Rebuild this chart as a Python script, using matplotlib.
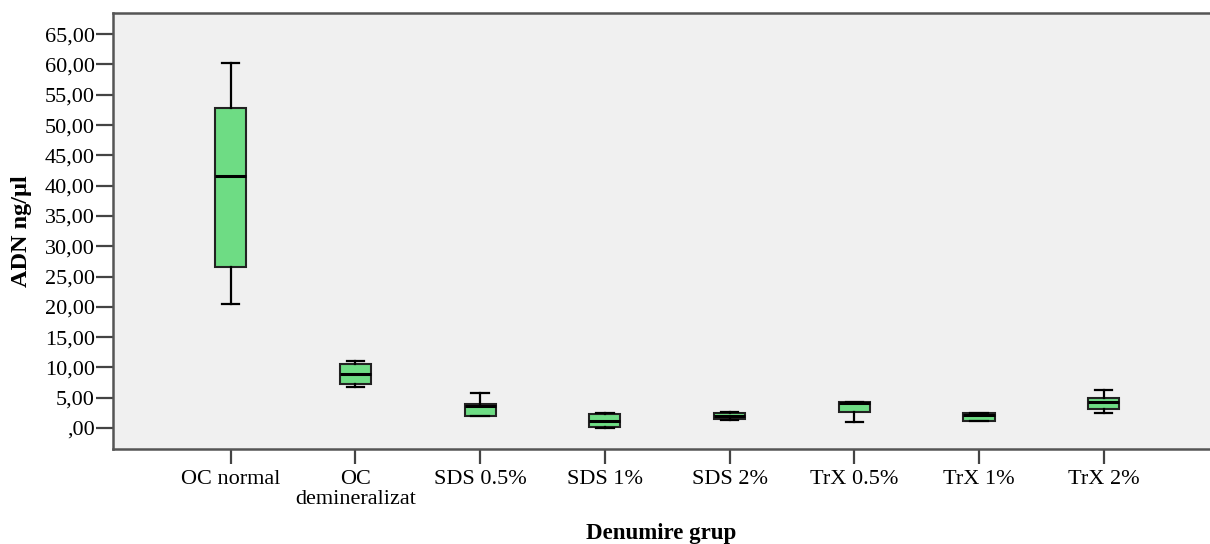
import matplotlib
matplotlib.use("Agg")
import matplotlib.pyplot as plt
from matplotlib.ticker import FuncFormatter

plt.rcParams['font.family'] = ['Liberation Serif', 'DejaVu Serif']

# groups and box stats (ng/ul)
groups = ["OC normal", "OC\ndemineralizat", "SDS 0.5%", "SDS 1%",
          "SDS 2%", "TrX 0.5%", "TrX 1%", "TrX 2%"]
whisk_low = [20.5, 6.8, 2.0, 0.0, 1.3, 1.05, 1.15, 2.4]
q1 = [26.5, 7.2, 2.0, 0.1, 1.5, 2.6, 1.2, 3.1]
medians = [41.6, 8.9, 3.6, 1.2, 2.0, 4.1, 2.15, 4.35]
q3 = [52.8, 10.6, 3.9, 2.3, 2.4, 4.3, 2.4, 5.0]
whisk_high = [60.2, 11.1, 5.7, 2.5, 2.7, 4.3, 2.5, 6.3]

stats = []
for i in range(len(groups)):
    stats.append({"whislo": whisk_low[i], "q1": q1[i], "med": medians[i],
                  "q3": q3[i], "whishi": whisk_high[i], "fliers": []})

fig = plt.figure(figsize=(12.1, 5.44), dpi=100)
ax = fig.add_axes([0.0934, 0.1746, 1.0 - 0.0934, 0.8015])
ax.set_facecolor("#f0f0f0")

ax.bxp(stats, positions=range(len(groups)), widths=0.25, patch_artist=True,
       showfliers=False,
       boxprops=dict(facecolor="#6edc84", edgecolor="#222222", linewidth=1.5),
       medianprops=dict(color="black", linewidth=2.2),
       whiskerprops=dict(color="black", linewidth=1.6),
       capprops=dict(color="black", linewidth=1.6),
       capwidths=0.14)

ax.set_xlim(-0.944, 7.853)
ax.set_ylim(-3.47, 68.5)
ax.set_yticks(range(0, 70, 5))
ax.yaxis.set_major_formatter(FuncFormatter(
    lambda v, p: ",00" if v == 0 else f"{v:.2f}".replace(".", ",")))
ax.set_xticks(range(len(groups)))
ax.set_xticklabels(groups, fontsize=16, linespacing=1.1)
ax.tick_params(axis="y", labelsize=16, length=12, width=1.6, color="#444444", pad=1)
ax.tick_params(axis="x", length=11, width=1.6, color="#444444", pad=4)

for s in ["left", "bottom", "top"]:
    ax.spines[s].set_color("#555555")
    ax.spines[s].set_linewidth(1.8)
ax.spines["right"].set_visible(False)

# axis titles placed where the reference puts them
fig.text(661 / 1210, 1 - 533 / 544, "Denumire grup", fontsize=16.5,
         fontweight="bold", ha="center", va="center")
fig.text(22 / 1210, 1 - 231 / 544, "ADN ng/µl", fontsize=17.5,
         fontweight="bold", rotation=90, ha="center", va="center")

fig.savefig("out.png", dpi=100)
